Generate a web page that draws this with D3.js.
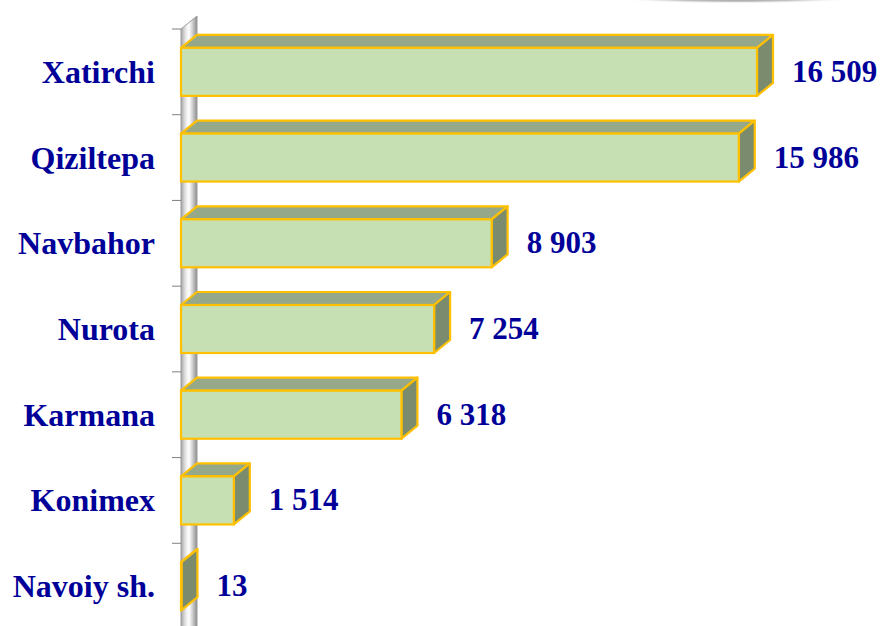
<!DOCTYPE html>
<html>
<head>
<meta charset="utf-8">
<script src="https://cdn.jsdelivr.net/npm/d3@7"></script>
<style>
  body { margin: 0; background: #fff; }
  svg { display: block; }
  .lbl { font-family: "Liberation Serif", "Times New Roman", serif; font-weight: bold; fill: #000099; }
  .val { font-size: 31px; }
  .cat { font-size: 32px; }
</style>
</head>
<body>
<div id="chart"></div>
<script>
// data
const categories = ['Xatirchi', 'Qiziltepa', 'Navbahor', 'Nurota', 'Karmana', 'Konimex', 'Navoiy sh.'];
const values = [16509, 15986, 8903, 7254, 6318, 1514, 13];
const valueLabels = ['16 509', '15 986', '8 903', '7 254', '6 318', '1 514', '13'];

const width = 881, height = 626;
const depthX = 16, depthY = -13; // 3d offset

const svg = d3.select('#chart').append('svg')
    .attr('width', width)
    .attr('height', height);

const defs = svg.append('defs');

// metallic wall gradient
const wallGrad = defs.append('linearGradient')
    .attr('id', 'wallGrad')
    .attr('x1', '0%').attr('y1', '0%')
    .attr('x2', '100%').attr('y2', '0%');
[['0%', '#a6a6a6'], ['30%', '#e8e8e8'], ['50%', '#ffffff'], ['75%', '#c8c8c8'], ['100%', '#8c8c8c']]
  .forEach(s => wallGrad.append('stop').attr('offset', s[0]).attr('stop-color', s[1]));

// soft shadow line at the top right
const shadowGrad = defs.append('radialGradient').attr('id', 'shadowGrad');
[['0%', '#8a8a8a', 1], ['55%', '#aaaaaa', 0.7], ['100%', '#ffffff', 0]]
  .forEach(s => shadowGrad.append('stop').attr('offset', s[0]).attr('stop-color', s[1]).attr('stop-opacity', s[2]));

svg.append('ellipse')
    .attr('cx', 737).attr('cy', -1)
    .attr('rx', 120).attr('ry', 4.5)
    .attr('fill', 'url(#shadowGrad)');

// scales
const x = d3.scaleLinear()
    .domain([0, 16509])
    .range([181, 757]);

const y = d3.scaleBand()
    .domain(categories)
    .range([29, 629])
    .paddingInner(0.44)
    .paddingOuter(0.22);

const step = y.step();
const x0 = x(0);
const top0 = y.range()[0];

// wall
svg.append('path')
    .attr('d', `M${x0},${top0} L${x0 + depthX},${top0 + depthY} L${x0 + depthX},${height + 40} L${x0},${height + 40} Z`)
    .attr('fill', 'url(#wallGrad)')
    .attr('stroke', '#9a9a9a')
    .attr('stroke-width', 1);

// tick marks on the category axis
d3.range(categories.length + 1).forEach(i => {
  const ty = top0 + i * step;
  svg.append('line')
      .attr('x1', x0 - 9).attr('x2', x0)
      .attr('y1', ty).attr('y2', ty)
      .attr('stroke', '#808080')
      .attr('stroke-width', 1);
});

const rows = categories.map((c, i) => ({ cat: c, value: values[i], label: valueLabels[i] }));
const bh = y.bandwidth();

const bar = svg.selectAll('.bar')
    .data(rows)
    .enter().append('g')
    .attr('class', 'bar');

const edge = '#ffc000';

// top face
bar.append('path')
    .attr('d', d => {
      const x1 = x(d.value), yt = y(d.cat);
      return `M${x0},${yt} L${x0 + depthX},${yt + depthY} L${x1 + depthX},${yt + depthY} L${x1},${yt} Z`;
    })
    .attr('fill', '#95a98a')
    .attr('stroke', edge)
    .attr('stroke-width', 2.2)
    .attr('stroke-linejoin', 'round');

// side face
bar.append('path')
    .attr('d', d => {
      const x1 = x(d.value), yt = y(d.cat);
      return `M${x1},${yt} L${x1 + depthX},${yt + depthY} L${x1 + depthX},${yt + bh + depthY} L${x1},${yt + bh} Z`;
    })
    .attr('fill', '#7b8c6e')
    .attr('stroke', edge)
    .attr('stroke-width', 2.2)
    .attr('stroke-linejoin', 'round');

// front face
bar.append('rect')
    .attr('x', x0)
    .attr('y', d => y(d.cat))
    .attr('width', d => x(d.value) - x0)
    .attr('height', bh)
    .attr('fill', '#c6e0b4')
    .attr('stroke', edge)
    .attr('stroke-width', 2.2);

// value labels
bar.append('text')
    .attr('class', 'lbl val')
    .attr('x', d => x(d.value) + depthX + 19)
    .attr('y', d => y(d.cat) + bh / 2 + 10)
    .text(d => d.label);

// category labels
svg.selectAll('.cat')
    .data(rows)
    .enter().append('text')
    .attr('class', 'lbl cat')
    .attr('text-anchor', 'end')
    .attr('x', 155)
    .attr('y', d => y(d.cat) + bh / 2 + 11)
    .text(d => d.cat);
</script>
</body>
</html>
